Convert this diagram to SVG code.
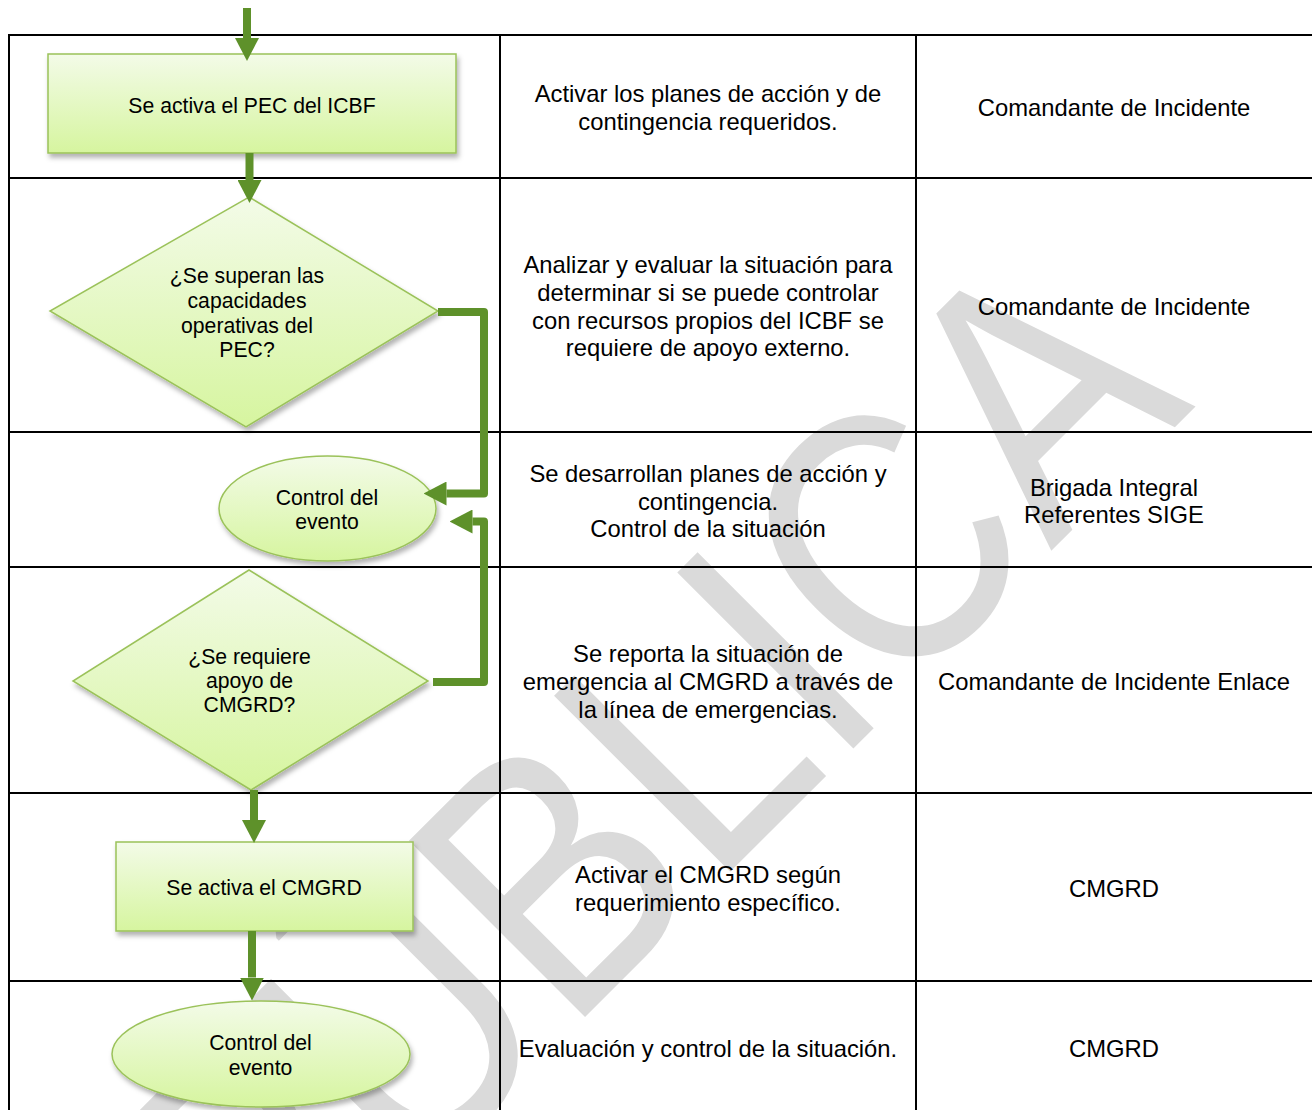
<svg xmlns="http://www.w3.org/2000/svg" width="1312" height="1110" viewBox="0 0 1312 1110">
<defs>
<linearGradient id="g" x1="0" y1="0" x2="0" y2="1">
<stop offset="0" stop-color="#f3fbe8"/>
<stop offset="1" stop-color="#d6f59f"/>
</linearGradient>
<filter id="sh" x="-10%" y="-10%" width="125%" height="130%">
<feDropShadow dx="2" dy="4" stdDeviation="2.5" flood-color="#000" flood-opacity="0.3"/>
</filter>
<marker id="ah" viewBox="0 0 23 24" refX="0" refY="12" markerWidth="23" markerHeight="24" markerUnits="userSpaceOnUse" orient="auto">
<path d="M0,0 L23,12 L0,24 z" fill="#5e912a"/>
</marker>
<style>
.wm{font-family:"Liberation Sans",Arial,sans-serif;font-size:362px;fill:#dadada}
.grid{stroke:#000;stroke-width:2;fill:none}
.shape{fill:url(#g);stroke:#9bc25a;stroke-width:1.5;filter:url(#sh)}
.ft{font-family:"Liberation Sans",Arial,sans-serif;font-size:21.2px;fill:#000;text-anchor:middle}
.tt{font-family:"Liberation Sans",Arial,sans-serif;font-size:23.8px;fill:#000;text-anchor:middle}
.cn{fill:none;stroke:#5e912a;stroke-width:8;stroke-linejoin:round;marker-end:url(#ah)}
</style>
</defs>
<rect width="1312" height="1110" fill="#fff"/>
<text class="wm" x="0" y="0" text-anchor="end" transform="translate(1196 406) rotate(-45) scale(0.85 1)">PÚBLICA</text>
<g id="table">
<path class="grid" d="M9,35 H1313 M9,178 H1313 M9,432 H1313 M9,567 H1313 M9,793 H1313 M9,981 H1313 M9,34 V1111 M500,34 V1111 M916,34 V1111"/>
<text class="tt" x="708" y="101.5">Activar los planes de acción y de</text>
<text class="tt" x="708" y="129.5">contingencia requeridos.</text>
<text class="tt" x="1114" y="115.5">Comandante de Incidente</text>
<text class="tt" x="708" y="272.5">Analizar y evaluar la situación para</text>
<text class="tt" x="708" y="300.5">determinar si se puede controlar</text>
<text class="tt" x="708" y="328.5">con recursos propios del ICBF se</text>
<text class="tt" x="708" y="356">requiere de apoyo externo.</text>
<text class="tt" x="1114" y="314.5">Comandante de Incidente</text>
<text class="tt" x="708" y="481.5">Se desarrollan planes de acción y</text>
<text class="tt" x="708" y="509.5">contingencia.</text>
<text class="tt" x="708" y="536.5">Control de la situación</text>
<text class="tt" x="1114" y="495.5">Brigada Integral</text>
<text class="tt" x="1114" y="522.5">Referentes SIGE</text>
<text class="tt" x="708" y="661.5">Se reporta la situación de</text>
<text class="tt" x="708" y="689.5">emergencia al CMGRD a través de</text>
<text class="tt" x="708" y="717.5">la línea de emergencias.</text>
<text class="tt" x="1114" y="689.5">Comandante de Incidente Enlace</text>
<text class="tt" x="708" y="882.5">Activar el CMGRD según</text>
<text class="tt" x="708" y="910.5">requerimiento específico.</text>
<text class="tt" x="1114" y="896.5">CMGRD</text>
<text class="tt" x="708" y="1056.5">Evaluación y control de la situación.</text>
<text class="tt" x="1114" y="1056.5">CMGRD</text>
</g>
<g id="n1">
<rect class="shape" x="48" y="54" width="408" height="99"/>
<text class="ft" x="252" y="112.5">Se activa el PEC del ICBF</text>
</g>
<g id="n2">
<polygon class="shape" points="249,197 438,311 246,427 50,311"/>
<text class="ft" x="247" y="283">¿Se superan las</text>
<text class="ft" x="247" y="308">capacidades</text>
<text class="ft" x="247" y="333">operativas del</text>
<text class="ft" x="247" y="357">PEC?</text>
</g>
<g id="n3">
<ellipse class="shape" cx="327.5" cy="508.5" rx="108.5" ry="52.5"/>
<text class="ft" x="327" y="505">Control del</text>
<text class="ft" x="327" y="529">evento</text>
</g>
<g id="n4">
<polygon class="shape" points="249,570 428,681 251,790 73,681"/>
<text class="ft" x="249.5" y="663.5">¿Se requiere</text>
<text class="ft" x="249.5" y="688">apoyo de</text>
<text class="ft" x="249.5" y="712">CMGRD?</text>
</g>
<g id="n5">
<rect class="shape" x="116" y="842" width="297" height="89"/>
<text class="ft" x="264" y="895">Se activa el CMGRD</text>
</g>
<g id="n6">
<ellipse class="shape" cx="261" cy="1054" rx="149" ry="53"/>
<text class="ft" x="260.5" y="1050">Control del</text>
<text class="ft" x="260.5" y="1075">evento</text>
</g>
<g id="connectors">
<path class="cn" d="M247,8 V38"/>
<path class="cn" d="M249.5,153 V180"/>
<path class="cn" d="M438,312 H484 V493.5 H446.5"/>
<path class="cn" d="M433,682 H484 V521.5 H472.5"/>
<path class="cn" d="M254,790 V820"/>
<path class="cn" d="M252,931 V977.5"/>
</g>
</svg>
